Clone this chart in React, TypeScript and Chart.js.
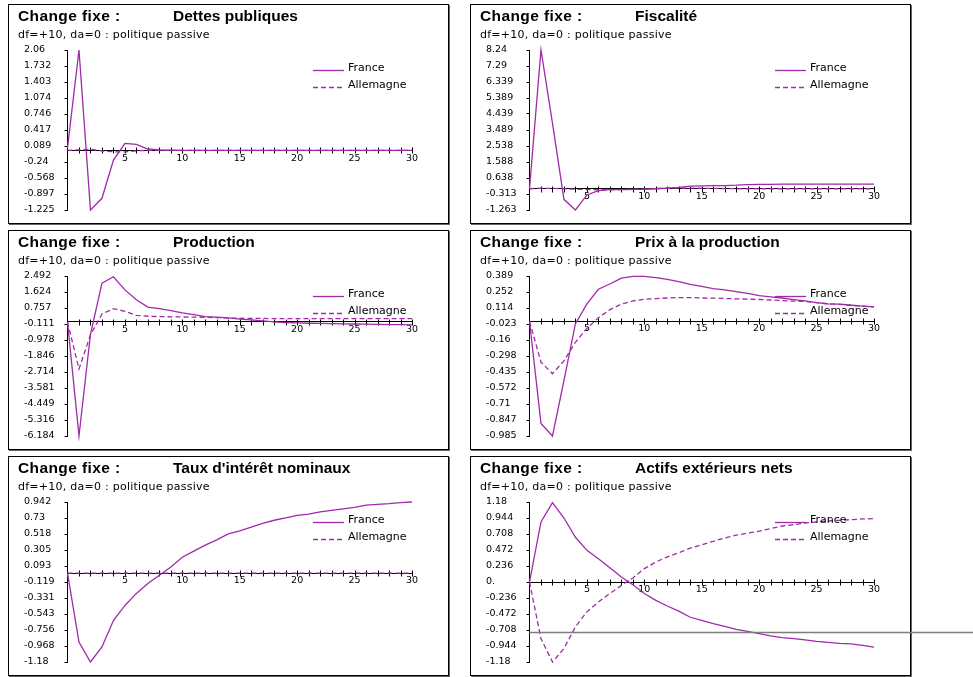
import React, { useEffect, useRef } from 'react';
import { Chart, registerables } from 'chart.js';

Chart.register(...registerables);

// ---------- DATA ----------
const periods = [0, 1, 2, 3, 4, 5, 6, 7, 8, 9, 10, 11, 12, 13, 14, 15, 16, 17, 18, 19, 20, 21, 22, 23, 24, 25, 26, 27, 28, 29, 30];

const headLeft = 'Change fixe :';
const subtitleText = 'df=+10, da=0 : politique passive';
const seriesNames = ['France', 'Allemagne'];

// Dettes publiques
const detteTicks = ['2.06', '1.732', '1.403', '1.074', '0.746', '0.417', '0.089', '-0.24', '-0.568', '-0.897', '-1.225'];
const detteFrance = [0.05, 2.06, -1.225, -0.985, -0.2, 0.144, 0.124, 0.027, 0.01, 0.005, 0, 0, 0, 0, 0, 0, 0, 0, 0, 0, 0, 0, 0, 0, 0, 0, 0, 0, 0, 0, 0];
const detteAllemagne = [0, 0.01, 0.02, -0.01, -0.03, -0.03, -0.01, 0, 0, 0, 0, 0, 0, 0, 0, 0, 0, 0, 0, 0, 0, 0, 0, 0, 0, 0, 0, 0, 0, 0, 0];

// Fiscalité
const fiscTicks = ['8.24', '7.29', '6.339', '5.389', '4.439', '3.489', '2.538', '1.588', '0.638', '-0.313', '-1.263'];
const fiscFrance = [0, 8.24, 3.9, -0.63, -1.263, -0.37, -0.11, -0.05, -0.05, -0.04, -0.03, 0.0, 0.04, 0.08, 0.15, 0.17, 0.18, 0.19, 0.21, 0.25, 0.26, 0.26, 0.27, 0.27, 0.27, 0.27, 0.27, 0.27, 0.27, 0.27, 0.27];
const fiscAllemagne = [0, 0.03, 0.02, 0.0, -0.03, -0.05, -0.06, -0.06, -0.05, -0.04, -0.02, 0.01, 0.03, 0.04, 0.04, 0.03, 0.02, 0.01, 0, 0, 0, 0, 0, 0, 0, 0, 0, 0, 0, 0, 0];

// Production
const prodTicks = ['2.492', '1.624', '0.757', '-0.111', '-0.978', '-1.846', '-2.714', '-3.581', '-4.449', '-5.316', '-6.184'];
const prodFrance = [0, -6.184, -0.67, 2.1, 2.45, 1.74, 1.2, 0.81, 0.72, 0.61, 0.49, 0.4, 0.29, 0.26, 0.22, 0.15, 0.11, 0.06, 0.0, -0.03, -0.05, -0.07, -0.08, -0.09, -0.1, -0.11, -0.12, -0.13, -0.14, -0.15, -0.16];
const prodAllemagne = [0, -2.55, -0.7, 0.43, 0.72, 0.58, 0.36, 0.31, 0.29, 0.28, 0.27, 0.26, 0.25, 0.23, 0.21, 0.2, 0.19, 0.19, 0.18, 0.18, 0.18, 0.18, 0.18, 0.18, 0.18, 0.18, 0.18, 0.18, 0.18, 0.18, 0.18];

// Prix à la production
const prixTicks = ['0.389', '0.252', '0.114', '-0.023', '-0.16', '-0.298', '-0.435', '-0.572', '-0.71', '-0.847', '-0.985'];
const prixFrance = [0, -0.877, -0.985, -0.51, -0.02, 0.15, 0.275, 0.32, 0.37, 0.385, 0.385, 0.375, 0.36, 0.34, 0.317, 0.3, 0.28, 0.27, 0.255, 0.24, 0.22, 0.21, 0.2, 0.187, 0.175, 0.16, 0.15, 0.147, 0.138, 0.13, 0.124];
const prixAllemagne = [0, -0.35, -0.45, -0.34, -0.18, -0.06, 0.03, 0.1, 0.147, 0.175, 0.19, 0.195, 0.2, 0.204, 0.204, 0.2, 0.199, 0.196, 0.193, 0.19, 0.187, 0.183, 0.178, 0.174, 0.17, 0.16, 0.15, 0.145, 0.138, 0.13, 0.124];

// Taux d'intérêt nominaux
const tauxTicks = ['0.942', '0.73', '0.518', '0.305', '0.093', '-0.119', '-0.331', '-0.543', '-0.756', '-0.968', '-1.18'];
const tauxFrance = [0, -0.915, -1.18, -0.98, -0.63, -0.43, -0.27, -0.14, -0.03, 0.08, 0.21, 0.29, 0.37, 0.44, 0.52, 0.56, 0.61, 0.66, 0.7, 0.73, 0.765, 0.78, 0.81, 0.83, 0.85, 0.87, 0.9, 0.91, 0.92, 0.935, 0.942];
const tauxAllemagne = [0, 0, 0, 0, 0, 0, 0, 0, 0, 0, 0, 0, 0, 0, 0, 0, 0, 0, 0, 0, 0, 0, 0, 0, 0, 0, 0, 0, 0, 0, 0];

// Actifs extérieurs nets
const actifsTicks = ['1.18', '0.944', '0.708', '0.472', '0.236', '0.', '-0.236', '-0.472', '-0.708', '-0.944', '-1.18'];
const actifsFrance = [0, 0.885, 1.17, 0.944, 0.66, 0.467, 0.344, 0.21, 0.074, -0.04, -0.17, -0.27, -0.354, -0.43, -0.52, -0.565, -0.614, -0.654, -0.7, -0.728, -0.762, -0.796, -0.82, -0.836, -0.855, -0.875, -0.89, -0.905, -0.914, -0.934, -0.96];
const actifsAllemagne = [0, -0.836, -1.18, -0.98, -0.66, -0.44, -0.295, -0.17, -0.05, 0.06, 0.197, 0.295, 0.37, 0.43, 0.5, 0.55, 0.6, 0.65, 0.69, 0.72, 0.75, 0.787, 0.826, 0.845, 0.87, 0.885, 0.9, 0.91, 0.92, 0.93, 0.934];
const actifsStrayLine = -0.737;

// ---------- STYLE ----------
const PURPLE = '#a02aa8';
const PANEL_W = 442;
const PANEL_H = 221;

type PanelDef = {
  topic: string;
  ticks: string[];
  france: number[];
  allemagne: number[];
  left: number;
  top: number;
  canvasWidth: number;
  stray?: number;
};

const panels: PanelDef[] = [
  { topic: 'Dettes publiques', ticks: detteTicks, france: detteFrance, allemagne: detteAllemagne, left: 8, top: 4, canvasWidth: PANEL_W },
  { topic: 'Fiscalité', ticks: fiscTicks, france: fiscFrance, allemagne: fiscAllemagne, left: 470, top: 4, canvasWidth: PANEL_W },
  { topic: 'Production', ticks: prodTicks, france: prodFrance, allemagne: prodAllemagne, left: 8, top: 230, canvasWidth: PANEL_W },
  { topic: 'Prix à la production', ticks: prixTicks, france: prixFrance, allemagne: prixAllemagne, left: 470, top: 230, canvasWidth: PANEL_W },
  { topic: "Taux d'intérêt nominaux", ticks: tauxTicks, france: tauxFrance, allemagne: tauxAllemagne, left: 8, top: 456, canvasWidth: PANEL_W },
  { topic: 'Actifs extérieurs nets', ticks: actifsTicks, france: actifsFrance, allemagne: actifsAllemagne, left: 470, top: 456, canvasWidth: 503, stray: actifsStrayLine },
];

const TICK_FONT = { family: '"DejaVu Sans", sans-serif', size: 9.5 };

function PanelChart({ p }: { p: PanelDef }) {
  const ref = useRef<HTMLCanvasElement>(null);

  useEffect(() => {
    const canvas = ref.current;
    if (!canvas) return;
    const n = p.ticks.length - 1;
    const max = parseFloat(p.ticks[0]);
    const min = parseFloat(p.ticks[n]);

    const decor = {
      id: 'decor',
      beforeDatasetsDraw(chart: any) {
        const ctx = chart.ctx;
        const xs = chart.scales.x;
        const ys = chart.scales.y;
        const y0 = Math.round(ys.getPixelForValue(0)) + 0.5;
        ctx.save();
        ctx.strokeStyle = '#000';
        ctx.lineWidth = 1;
        ctx.beginPath();
        periods.forEach((t) => {
          if (t === 0) return;
          const x = Math.round(xs.getPixelForValue(t)) + 0.5;
          ctx.moveTo(x, y0 - 3);
          ctx.lineTo(x, y0 + 3);
        });
        ctx.stroke();
        ctx.restore();
      },
      afterDatasetsDraw(chart: any) {
        const ctx = chart.ctx;
        ctx.save();
        ctx.strokeStyle = PURPLE;
        ctx.lineWidth = 1.3;
        ctx.beginPath();
        ctx.moveTo(305, 66.5);
        ctx.lineTo(336, 66.5);
        ctx.stroke();
        ctx.setLineDash([5, 3]);
        ctx.beginPath();
        ctx.moveTo(305, 83.5);
        ctx.lineTo(336, 83.5);
        ctx.stroke();
        ctx.setLineDash([]);
        ctx.fillStyle = '#000';
        ctx.font = '11px "DejaVu Sans", sans-serif';
        ctx.textBaseline = 'middle';
        ctx.textAlign = 'left';
        ctx.fillText(seriesNames[0], 340, 64);
        ctx.fillText(seriesNames[1], 340, 81);
        ctx.restore();
      },
      afterDraw(chart: any) {
        const ctx = chart.ctx;
        ctx.save();
        ctx.strokeStyle = '#000';
        ctx.lineWidth = 1;
        ctx.strokeRect(0.5, 0.5, PANEL_W - 2, PANEL_H - 2);
        ctx.strokeStyle = '#666';
        ctx.beginPath();
        ctx.moveTo(PANEL_W - 0.5, 1);
        ctx.lineTo(PANEL_W - 0.5, PANEL_H);
        ctx.moveTo(1, PANEL_H - 0.5);
        ctx.lineTo(PANEL_W, PANEL_H - 0.5);
        ctx.stroke();
        ctx.fillStyle = '#000';
        ctx.textAlign = 'left';
        ctx.textBaseline = 'alphabetic';
        ctx.font = 'bold 15.5px "Liberation Sans", Arial, sans-serif';
        try { (ctx as any).letterSpacing = '0.4px'; } catch (e) {}
        ctx.fillText(headLeft, 10, 17);
        try { (ctx as any).letterSpacing = '0px'; } catch (e) {}
        ctx.fillText(p.topic, 165, 17);
        ctx.font = '11px "DejaVu Sans", sans-serif';
        try { (ctx as any).letterSpacing = '0.25px'; } catch (e) {}
        ctx.fillText(subtitleText, 10, 34);
        try { (ctx as any).letterSpacing = '0px'; } catch (e) {}
        if (p.stray !== undefined) {
          const ys = chart.scales.y;
          const y = Math.round(ys.getPixelForValue(p.stray)) + 0.5;
          ctx.strokeStyle = '#7d7d7d';
          ctx.lineWidth = 1.5;
          ctx.beginPath();
          ctx.moveTo(chart.chartArea.left, y);
          ctx.lineTo(chart.width, y);
          ctx.stroke();
        }
        ctx.restore();
      },
    };

    const chart = new Chart(canvas, {
      type: 'line',
      data: {
        datasets: [
          {
            label: seriesNames[0],
            data: periods.map((t, i) => ({ x: t, y: p.france[i] })),
            borderColor: PURPLE,
            borderWidth: 1.3,
            pointRadius: 0,
            tension: 0,
            fill: false,
            clip: false as any,
          },
          {
            label: seriesNames[1],
            data: periods.map((t, i) => ({ x: t, y: p.allemagne[i] })),
            borderColor: PURPLE,
            borderWidth: 1.3,
            borderDash: [5, 3],
            pointRadius: 0,
            tension: 0,
            fill: false,
            clip: false as any,
          },
        ],
      },
      options: {
        animation: false,
        responsive: false,
        maintainAspectRatio: false,
        layout: { padding: { left: 16, right: p.canvasWidth - 404, top: 46, bottom: PANEL_H - 206 } },
        plugins: { legend: { display: false }, tooltip: { enabled: false }, title: { display: false } },
        scales: {
          x: {
            type: 'linear',
            min: 0,
            max: 30,
            position: { y: 0 } as any,
            grid: { display: true, drawOnChartArea: false, drawTicks: false },
            border: { display: true, color: '#000', width: 1 },
            ticks: {
              stepSize: 1,
              autoSkip: false,
              maxRotation: 0,
              padding: 2,
              color: '#000',
              font: TICK_FONT,
              callback: (v: any) => (Number(v) % 5 === 0 && Number(v) !== 0 ? String(v) : ''),
            },
          },
          y: {
            type: 'linear',
            position: 'left',
            min,
            max,
            afterBuildTicks: (s: any) => {
              s.ticks = p.ticks.map((_, i) => ({ value: min + ((max - min) * i) / n }));
            },
            afterFit: (s: any) => {
              s.width = 43.5;
            },
            grid: { display: true, drawOnChartArea: false, drawTicks: true, tickLength: 3, color: '#000', lineWidth: 1 },
            border: { display: true, color: '#000', width: 1 },
            ticks: {
              autoSkip: false,
              crossAlign: 'far',
              padding: 4,
              color: '#000',
              font: TICK_FONT,
              callback: (_v: any, i: number) => p.ticks[n - i],
            },
          },
        },
      } as any,
      plugins: [decor],
    });
    return () => chart.destroy();
  }, [p]);

  return (
    <div style={{ position: 'absolute', left: p.left, top: p.top, width: p.canvasWidth, height: PANEL_H }}>
      <canvas ref={ref} width={p.canvasWidth} height={PANEL_H} style={{ display: 'block', width: p.canvasWidth, height: PANEL_H }} />
    </div>
  );
}

export default function App() {
  return (
    <div style={{ position: 'absolute', left: 0, top: 0, width: 973, height: 677, background: '#fff', overflow: 'hidden' }}>
      {panels.map((p, i) => (
        <PanelChart key={i} p={p} />
      ))}
    </div>
  );
}
